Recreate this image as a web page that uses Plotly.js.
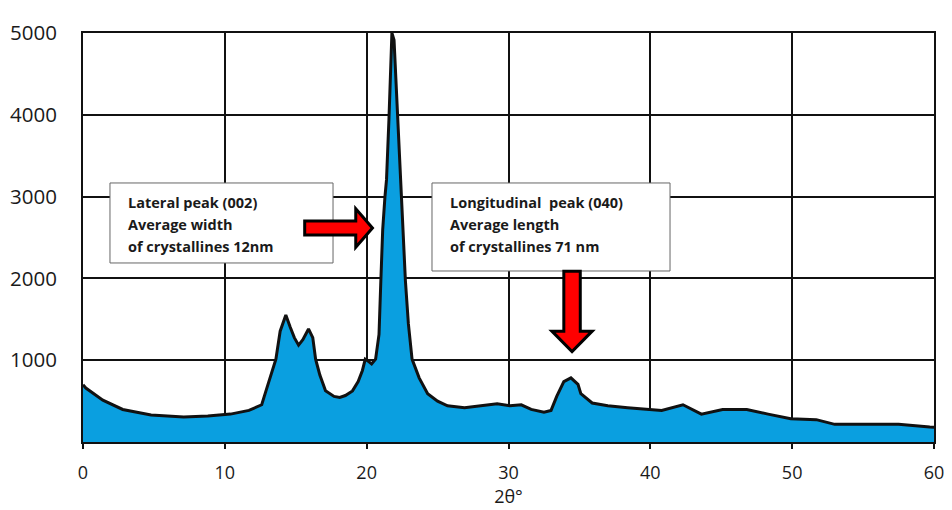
<!DOCTYPE html>
<html>
<head>
<meta charset="utf-8">
<script src="https://cdn.plot.ly/plotly-3.0.1.min.js"></script>
<style>html,body{margin:0;padding:0;background:#fff;}#chart{width:952px;height:510px;}</style>
</head>
<body>
<div id="chart"></div>
<script>
// 2θ (degrees) and intensity
const twoTheta = [0, 0.2, 1.4, 2.8, 4.8, 7.1, 8.8, 10.4, 11.7, 12.6,
  12.9, 13.25, 13.6, 13.9, 14.3, 14.6, 14.9, 15.2, 15.5, 15.9,
  16.2, 16.4, 16.7, 17.1, 17.7, 18.1, 18.5, 19.0, 19.4, 19.7,
  19.9, 20.1, 20.35, 20.63, 20.87, 21.0, 21.13, 21.29, 21.4, 21.57,
  21.7, 21.78, 21.93, 22.19, 22.36, 22.73, 22.94, 23.2, 23.7, 24.3,
  25.0, 25.7, 26.9, 28.0, 29.2, 30.1, 30.9, 31.6, 32.5, 33.0,
  33.4, 33.9, 34.4, 34.9, 35.1, 35.9, 37.0, 38.4, 39.9, 40.8,
  42.3, 43.6, 45.1, 46.8, 48.3, 49.9, 51.7, 53.0, 55.1, 57.5,
  59.7, 60];
const intensity = [700, 660, 511, 398, 330, 307, 318, 341, 386, 455,
  625, 818, 1013, 1355, 1553, 1408, 1276, 1184, 1250, 1382,
  1276, 1013, 818, 625, 557, 545, 568, 625, 739, 875,
  1013, 989, 955, 1013, 1316, 1974, 2593, 3000, 3207, 3939,
  4549, 5000, 4915, 3976, 3244, 1974, 1447, 1013, 784, 591,
  500, 443, 420, 443, 466, 443, 455, 398, 364, 386,
  557, 739, 784, 705, 591, 477, 443, 420, 398, 386,
  455, 341, 398, 398, 341, 284, 273, 216, 216, 216,
  182, 180];

const xTicks = [0, 10, 20, 30, 40, 50, 60];
const yTicks = [1000, 2000, 3000, 4000, 5000];
const xTitle = '2θ°';
const note1 = ['Lateral peak (002)', 'Average width', 'of crystallines 12nm'];
const note2 = ['Longitudinal  peak (040)', 'Average length', 'of crystallines 71 nm'];

// Arrow geometry (annotation drawing, in data units)
function hArrow(x0, x1, x2, yc, hs, hh) {
  return `M ${x0} ${yc - hs} L ${x1} ${yc - hs} L ${x1} ${yc - hh} L ${x2} ${yc} L ${x1} ${yc + hh} L ${x1} ${yc + hs} L ${x0} ${yc + hs} Z`;
}
function vArrow(xc, hw, hw2, y0, y1, y2) {
  return `M ${xc - hw} ${y0} L ${xc + hw} ${y0} L ${xc + hw} ${y1} L ${xc + hw2} ${y1} L ${xc} ${y2} L ${xc - hw2} ${y1} L ${xc - hw} ${y1} Z`;
}

const trace = {
  x: twoTheta, y: intensity, type: 'scatter', mode: 'lines',
  fill: 'tozeroy', fillcolor: '#0a9fe0',
  line: {color: '#111', width: 3},
  cliponaxis: false, hoverinfo: 'skip'
};

const textFont = {family: 'Open Sans, Liberation Sans, sans-serif', size: 14.5, color: '#1a1a1a', weight: 'bold'};
const annotations = [];
const lineY = [0.5844, 0.533, 0.4792];
note1.forEach((t, i) => annotations.push({xref: 'paper', yref: 'paper', x: 0.0505, y: lineY[i], xanchor: 'left', yanchor: 'middle', text: '<b>' + t + '</b>', showarrow: false, font: textFont}));
note2.forEach((t, i) => annotations.push({xref: 'paper', yref: 'paper', x: 0.4289, y: lineY[i], xanchor: 'left', yanchor: 'middle', text: '<b>' + t + '</b>', showarrow: false, font: textFont}));

const layout = {
  width: 952, height: 510,
  margin: {l: 83, r: 18, t: 33, b: 68},
  paper_bgcolor: '#fff', plot_bgcolor: '#fff',
  showlegend: false,
  font: {family: 'Open Sans, Liberation Sans, sans-serif', color: '#1a1a1a'},
  xaxis: {
    range: [0, 60], tickvals: xTicks, ticktext: xTicks.map(String),
    showgrid: true, gridcolor: '#111', gridwidth: 2,
    showline: true, linecolor: '#111', linewidth: 2, mirror: true,
    ticks: 'outside', ticklen: 5, tickcolor: '#111', tickwidth: 2,
    ticklabelstandoff: 8,
    tickfont: {size: 18, color: '#1a1a1a'}, zeroline: false,
    title: {text: xTitle, font: {size: 18, color: '#1a1a1a'}, standoff: 6}
  },
  yaxis: {
    range: [0, 5000], tickvals: yTicks, ticktext: yTicks.map(String),
    showgrid: true, gridcolor: '#111', gridwidth: 2,
    showline: true, linecolor: '#111', linewidth: 2, mirror: true,
    ticks: 'outside', ticklen: 20, tickcolor: 'rgba(0,0,0,0)',
    tickfont: {size: 20.5, color: '#1a1a1a'}, zeroline: false
  },
  shapes: [
    {type: 'rect', xref: 'paper', yref: 'paper', x0: 0.0317, x1: 0.2938, y0: 0.4377, y1: 0.6333,
     fillcolor: '#fff', line: {color: '#666', width: 1}, layer: 'above'},
    {type: 'rect', xref: 'paper', yref: 'paper', x0: 0.4101, x1: 0.6898, y0: 0.4181, y1: 0.6333,
     fillcolor: '#fff', line: {color: '#666', width: 1}, layer: 'above'},
    {type: 'path', xref: 'x', yref: 'y', path: hArrow(15.63, 19.23, 20.41, 2617, 85, 235),
     fillcolor: '#ff0000', line: {color: '#000', width: 3}, layer: 'above'},
    {type: 'path', xref: 'x', yref: 'y', path: vArrow(34.48, 0.58, 1.42, 2086, 1355, 1105),
     fillcolor: '#ff0000', line: {color: '#000', width: 3}, layer: 'above'}
  ],
  annotations: annotations
};

Plotly.newPlot('chart', [trace], layout, {staticPlot: true, displayModeBar: false});
</script>
</body>
</html>
